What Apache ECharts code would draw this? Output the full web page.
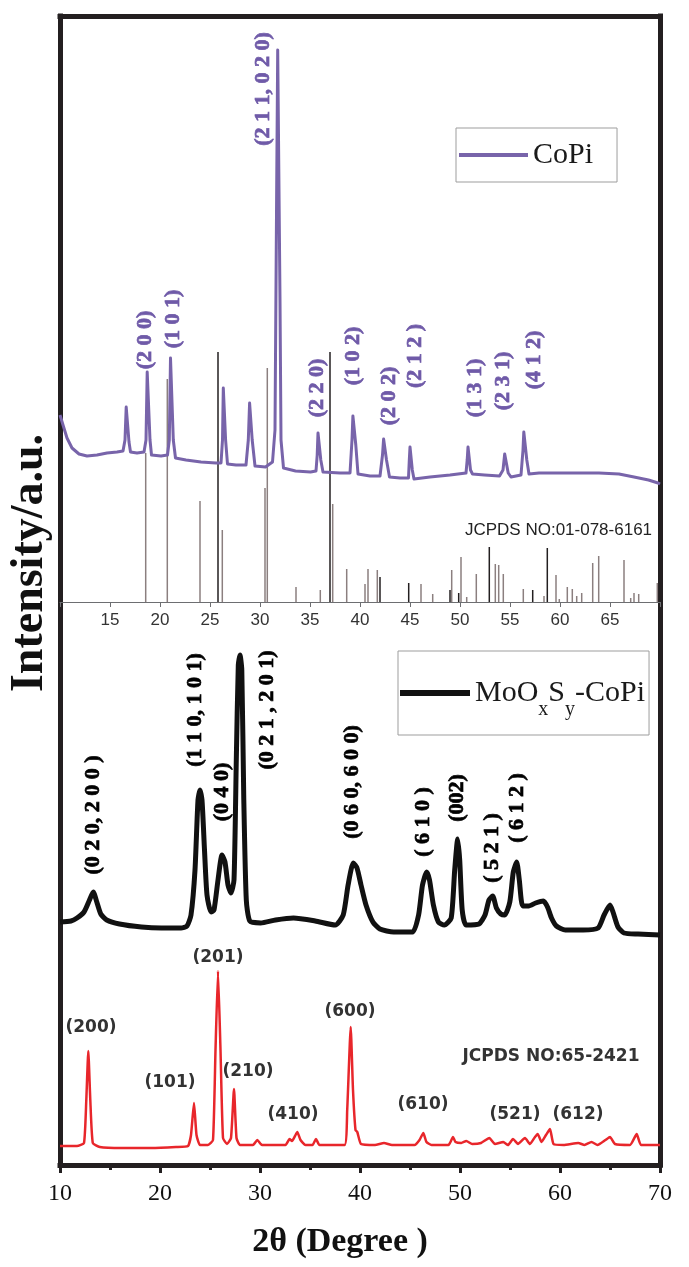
<!DOCTYPE html>
<html>
<head>
<meta charset="utf-8">
<script src="https://cdn.jsdelivr.net/npm/echarts@6/dist/echarts.min.js"></script>
<style>
html,body{margin:0;padding:0;background:#fff;}
#chart{width:689px;height:1267px;}
</style>
</head>
<body>
<div id="chart"></div>
<script>
// ---------- DATA (2θ in degrees, intensity in arbitrary units) ----------
const coPi = [[10.0,187],[10.3,177],[10.7,164],[11.2,154],[11.9,148],[12.7,146],[13.7,147],[14.7,149],[15.7,150],[16.3,151],[16.5,162],[16.62,195],[16.75,195],[16.9,160],[17.05,150],[17.7,149],[18.4,150],[18.6,162],[18.72,230],[18.85,230],[19.0,162],[19.15,147],[20.1,146],[20.75,147],[20.93,162],[21.05,244],[21.18,244],[21.33,162],[21.55,144],[22.6,142],[24.1,140],[25.6,139],[26.1,139],[26.25,162],[26.33,214],[26.46,214],[26.56,162],[26.75,138],[27.6,137],[28.6,137],[28.83,162],[28.96,199],[29.09,199],[29.22,162],[29.5,136],[30.55,135],[31.25,140],[31.5,172],[31.66,402],[31.77,552],[31.89,552],[32.0,302],[32.1,162],[32.35,134],[33.55,131],[35.05,130],[35.6,131],[35.72,147],[35.8,169],[35.94,169],[36.08,142],[36.3,130],[38.0,129],[39.0,129],[39.2,162],[39.29,186],[39.42,186],[39.58,157],[39.8,128],[41.0,126],[42.0,126],[42.25,147],[42.36,163],[42.5,163],[42.65,142],[42.95,125],[44.0,124],[44.85,124],[44.93,142],[45.0,155],[45.12,155],[45.23,132],[45.4,123],[47.0,125],[49.0,127],[50.6,129],[50.72,142],[50.8,155],[50.9,153],[51.05,132],[51.25,128],[52.45,127],[53.95,126],[54.3,132],[54.47,148],[54.62,148],[54.82,129],[55.1,125],[56.1,127],[56.3,152],[56.38,170],[56.52,170],[56.68,142],[56.9,128],[57.9,129],[59.9,129],[61.9,129],[63.9,129],[65.9,128],[67.4,125],[68.85,122],[69.8,119],[70.0,118]];

const stickAngleGray = [18.57,20.73,24.0,26.23,30.5,30.73,33.6,36.03,37.27,38.67,40.5,40.8,41.73,46.1,47.27,49.17,50.1,50.67,51.63,53.53,53.87,54.33,56.33,58.4,59.6,59.93,60.73,61.23,61.67,62.17,63.27,63.87,66.4,67.07,67.4,67.87,69.73];
const stickIntGray   = [149,223,101,72,114,234,15,12,98,33,18,33,32,18,8,32,45,5,28,38,37,28,13,6,27,3,15,13,6,9,39,46,42,4,9,8,19];
const stickAngleDark = [25.8,37.0,42.0,44.87,49.0,49.87,52.93,57.27,58.73];
const stickIntDark   = [250,250,25,19,12,9,55,12,54];

const moSample = [[10.0,245],[11.1,246],[11.7,249],[12.4,255],[12.95,267],[13.33,275],[13.68,265],[14.08,253],[14.67,247],[15.95,243],[18.15,240],[20.13,239],[22.1,239],[22.7,241],[23.1,252],[23.5,297],[23.8,367],[24.0,377],[24.2,367],[24.45,317],[24.7,272],[25.1,255],[25.4,257],[25.8,287],[26.2,312],[26.5,305],[26.8,282],[27.1,274],[27.4,287],[27.63,407],[27.83,502],[28.0,512],[28.18,497],[28.38,367],[28.63,267],[28.98,246],[30.07,244],[31.55,247],[33.35,249],[35.53,246],[37.52,242],[38.32,252],[38.81,282],[39.33,304],[39.7,299],[40.1,282],[40.6,262],[41.29,245],[41.99,238],[43.37,235],[45.26,235],[45.86,252],[46.25,282],[46.67,295],[46.95,287],[47.34,262],[47.84,245],[48.43,242],[49.12,249],[49.47,297],[49.77,328],[49.97,307],[50.22,257],[50.61,242],[51.9,243],[52.5,252],[52.9,267],[53.27,271],[53.64,259],[54.08,253],[54.48,252],[54.98,265],[55.33,295],[55.67,305],[55.93,287],[56.27,261],[56.87,261],[57.56,264],[58.33,266],[58.75,260],[59.15,249],[59.64,241],[60.53,237],[62.32,237],[63.81,239],[64.41,252],[65.0,262],[65.3,255],[65.8,240],[66.4,234],[67.8,233],[70.0,232]];

const refMo = [[10.0,21],[11.7,21],[12.4,24],[12.63,67],[12.83,116],[13.03,67],[13.28,24],[13.98,20],[16.15,19],[19.13,19],[21.6,20],[22.8,21],[23.1,32],[23.4,64],[23.65,32],[24.0,22],[24.8,22],[25.3,27],[25.55,117],[25.8,196],[26.05,117],[26.3,29],[26.7,23],[27.1,29],[27.4,78],[27.65,29],[28.0,22],[29.3,22],[29.73,27],[30.2,22],[32.55,22],[32.95,28],[33.2,26],[33.5,31],[33.73,35],[34.05,27],[34.55,22],[35.25,22],[35.6,28],[35.95,22],[38.45,22],[38.72,57],[39.07,140],[39.3,77],[39.55,37],[39.73,35],[40.1,23],[41.5,22],[42.4,24],[43.2,22],[45.45,22],[45.95,27],[46.33,34],[46.65,25],[47.15,22],[48.85,22],[49.3,30],[49.55,25],[50.13,24],[50.63,26],[51.22,23],[52.1,24],[52.93,29],[53.5,23],[54.33,25],[54.8,22],[55.3,28],[55.8,23],[56.5,29],[57.0,23],[57.5,30],[57.77,33],[58.15,25],[58.6,32],[59.0,38],[59.35,23],[60.35,22],[61.83,24],[62.45,22],[63.15,25],[63.75,22],[64.55,27],[65.0,30],[65.5,23],[67.0,22],[67.67,33],[68.1,22],[70.0,22]];

// annotation texts and their anchors (2θ, intensity)
const coPiLabels = ['(2 0 0)','(1 0 1)','(2 1 1, 0 2 0)','(2 2 0)','(1 0 2)','(2 0 2)','(2 1 2 )','(1 3 1)','(2 3 1)','(4 1 2)'];
const coPiLabelAt = [[18.5,262],[21.3,283],[30.3,513],[35.7,214],[39.3,246],[42.9,206],[45.5,246],[51.5,214],[54.3,221],[57.4,242]];
const moLabels = ['(0 2 0, 2 0 0 )','(1 1 0, 1 0 1)','(0 4 0)','(0 2 1 , 2 0 1)','(0 6 0, 6 0 0)','( 6 1 0 )','(002)','( 5 2 1 )','( 6 1 2 )'];
const moLabelAt = [[13.3,352],[23.5,457],[26.2,375],[30.7,457],[39.2,385],[46.3,345],[49.7,369],[53.2,319],[55.7,359]];
const refLabels = ['(200)','(101)','(201)','(210)','(410)','(600)','(610)','(521)','(612)','JCPDS NO:65-2421'];
const refLabelAt = [[13.1,139],[21.0,84],[25.8,209],[28.8,95],[33.3,52],[39.0,155],[46.3,62],[55.5,52],[61.8,52],[59.1,110]];
const stickCardLabel = ['JCPDS NO:01-078-6161'];
const stickCardLabelAt = [[59.85,72]];

const xTicksTop = [15,20,25,30,35,40,45,50,55,60,65];
const xTicksBottom = [10,20,30,40,50,60,70];

// ---------- STYLE ----------
const FRAME = '#231f20';
const PURPLE = '#7864aa';
const LABEL_PURPLE = '#6f5aa8';
const RED = '#e8262b';
const serif = '"Liberation Serif","Times New Roman",serif';
const sans = '"Liberation Sans",Arial,sans-serif';
const dejavu = '"DejaVu Sans",Verdana,sans-serif';

const frameLine = {show:true, onZero:false, lineStyle:{color:FRAME, width:5, cap:'square'}};
function frameY(grid, min, max, pos){
  return {type:'value', gridIndex:grid, min:min, max:max, position:pos,
    axisLine:frameLine, axisTick:{show:false}, axisLabel:{show:false}, splitLine:{show:false}};
}
function labelSeries(name, texts, at, xi, yi, lab){
  return {type:'scatter', name:name, xAxisIndex:xi, yAxisIndex:yi, symbolSize:0, silent:true, z:6,
    itemStyle:{opacity:1},
    data: texts.map((t,i)=>({name:t, value:at[i]})),
    label: Object.assign({show:true, position:'inside', formatter:'{b}', align:'center', verticalAlign:'middle', opacity:1}, lab)};
}

const stickData = stickAngleGray.map((a,i)=>({value:[a, stickIntGray[i]], itemStyle:{color:'#8b7f7f'}}))
  .concat(stickAngleDark.map((a,i)=>({value:[a, stickIntDark[i]], itemStyle:{color:FRAME}})));

const chart = echarts.init(document.getElementById('chart'), null, {renderer:'canvas'});
chart.setOption({
  animation:false,
  backgroundColor:'#fff',
  grid:[
    {left:60, right:29, top:16, height:586, outerBoundsMode:'none', containLabel:false},
    {left:60, right:29, top:602, height:563, outerBoundsMode:'none', containLabel:false}
  ],
  xAxis:[
    {type:'value', gridIndex:0, min:10, max:70, interval:5, position:'bottom',
     axisLine:{show:true, onZero:false, lineStyle:{color:'#6d6e71', width:1}},
     axisTick:{show:true, inside:false, length:5, lineStyle:{color:'#6d6e71', width:1}},
     axisLabel:{show:true, margin:10, color:'#333', fontFamily:sans, fontSize:17,
       formatter: v => xTicksTop.indexOf(v) >= 0 ? String(v) : ''},
     splitLine:{show:false}},
    {type:'value', gridIndex:0, min:10, max:70, position:'top',
     axisLine:frameLine, axisTick:{show:false}, axisLabel:{show:false}, splitLine:{show:false}},
    {type:'value', gridIndex:1, min:10, max:70, interval:10, position:'bottom',
     axisLine:frameLine,
     axisTick:{show:true, length:8, lineStyle:{color:FRAME, width:3}},
     minorTick:{show:true, splitNumber:2, length:5, lineStyle:{color:FRAME, width:3}},
     axisLabel:{show:true, margin:17, color:'#111', fontFamily:serif, fontSize:24,
       formatter: v => xTicksBottom.indexOf(v) >= 0 ? String(v) : ''},
     splitLine:{show:false},
     name:'2θ (Degree )', nameLocation:'middle', nameGap:60,
     nameTextStyle:{fontFamily:serif, fontWeight:'bold', fontSize:34, color:'#111', padding:[0,40,0,0]}}
  ],
  yAxis:[
    frameY(0, 0, 586, 'left'),
    frameY(0, 0, 586, 'right'),
    frameY(1, 2, 565, 'left'),
    frameY(1, 2, 565, 'right')
  ],
  legend:[
    {data:['CoPi'], left:456, top:128, icon:'rect', itemWidth:69, itemHeight:4,
     padding:[12,24,12,3], borderColor:'#9d9d9d', borderWidth:1, selectedMode:false,
     textStyle:{fontFamily:serif, fontSize:30, color:'#1a1a1a', lineHeight:30}},
    {data:['MoOxSy-CoPi'], left:398, top:651, icon:'rect', itemWidth:70, itemHeight:6,
     padding:[15,4,15,2], borderColor:'#9d9d9d', borderWidth:1, selectedMode:false,
     formatter: () => '{m|MoO}{s|x}{m|S}{s|y}{m|-CoPi}',
     textStyle:{fontFamily:serif, fontSize:30, color:'#1a1a1a',
       rich:{m:{fontFamily:serif, fontSize:30, lineHeight:34, color:'#1a1a1a'},
             s:{fontFamily:serif, fontSize:20, lineHeight:22, padding:[34,0,0,0], color:'#1a1a1a'}}}}
  ],
  graphic:[
    {type:'text', x:30, y:563, rotation:Math.PI/2, z:10,
     style:{text:'Intensity/a.u.', fill:'#111', font:'bold 46px "Liberation Serif"',
       align:'center', verticalAlign:'middle', textAlign:'center', textVerticalAlign:'middle'}}
  ],
  series:[
    {type:'bar', name:'JCPDS 01-078-6161', xAxisIndex:0, yAxisIndex:0, barWidth:1.5, silent:true, data:stickData, z:1},
    {type:'line', name:'CoPi', xAxisIndex:0, yAxisIndex:0, data:coPi, color:PURPLE, symbol:'none', showSymbol:false,
     lineStyle:{color:PURPLE, width:3, join:'round'}, z:3},
    {type:'line', name:'MoOxSy-CoPi', xAxisIndex:2, yAxisIndex:2, data:moSample, color:'#111', symbol:'none', showSymbol:false,
     smooth:0.2, lineStyle:{color:'#111', width:5, join:'round'}, z:3},
    {type:'line', name:'JCPDS 65-2421', xAxisIndex:2, yAxisIndex:2, data:refMo, color:RED, symbol:'none', showSymbol:false,
     smooth:0.15, lineStyle:{color:RED, width:2.5, join:'round'}, z:3},
    labelSeries('coPiLabels', coPiLabels, coPiLabelAt, 0, 0,
      {rotate:90, color:LABEL_PURPLE, fontFamily:serif, fontWeight:'bold', fontSize:22, textBorderColor:LABEL_PURPLE, textBorderWidth:0.7}),
    labelSeries('stickLabel', stickCardLabel, stickCardLabelAt, 0, 0,
      {color:'#222', fontFamily:sans, fontSize:17, textBorderWidth:0}),
    labelSeries('moLabels', moLabels, moLabelAt, 2, 2,
      {rotate:90, color:'#000', fontFamily:serif, fontWeight:'bold', fontSize:22, textBorderColor:'#000', textBorderWidth:0.7}),
    labelSeries('refLabels', refLabels, refLabelAt, 2, 2,
      {color:'#333', fontFamily:dejavu, fontWeight:'bold', fontSize:17, textBorderWidth:0})
  ]
});
</script>
</body>
</html>
